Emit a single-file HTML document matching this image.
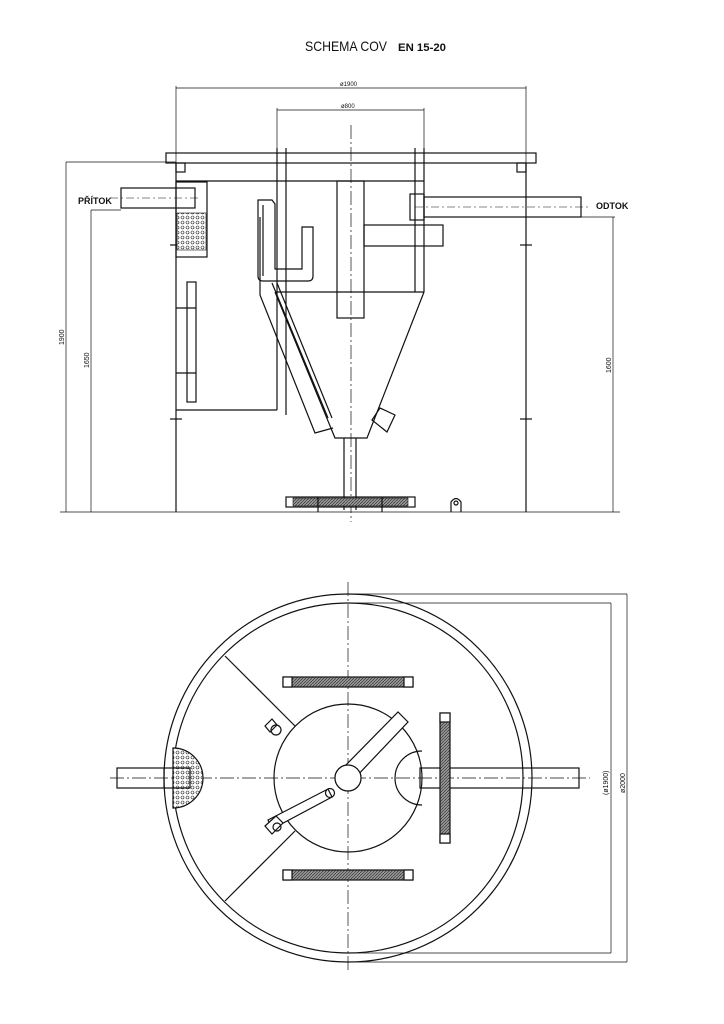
<!DOCTYPE html>
<html><head><meta charset="utf-8"><style>
html,body{margin:0;padding:0;background:#fff;}
svg{display:block;}
text{font-family:"Liberation Sans",sans-serif;fill:#111;}
</style></head><body>
<svg width="724" height="1024" viewBox="0 0 724 1024" xmlns="http://www.w3.org/2000/svg">
<defs>
<pattern id="dots" width="5" height="5" patternUnits="userSpaceOnUse">
<rect width="5" height="5" fill="#fff"/><circle cx="2.5" cy="2.5" r="1.5" fill="none" stroke="#222" stroke-width="0.6"/></pattern>
<pattern id="hatch" width="3" height="3" patternUnits="userSpaceOnUse">
<rect width="3" height="3" fill="#999"/><path d="M0 3L3 0" stroke="#333" stroke-width="0.7"/></pattern>
</defs>
<text x="305" y="51" font-size="14" textLength="82" lengthAdjust="spacingAndGlyphs">SCHEMA COV</text>
<text x="398" y="51" font-size="11" font-weight="bold" textLength="48" lengthAdjust="spacingAndGlyphs">EN 15-20</text>

<g fill="none" stroke="#111" stroke-width="1.2">
<!-- dims top -->
<g stroke-width="0.7">
<line x1="176" y1="88" x2="526" y2="88"/><line x1="176" y1="86" x2="176" y2="165"/><line x1="526" y1="86" x2="526" y2="165"/>
<line x1="277" y1="110" x2="424" y2="110"/><line x1="277" y1="108" x2="277" y2="150"/><line x1="424" y1="108" x2="424" y2="150"/>
<line x1="66" y1="162" x2="176" y2="162"/><line x1="66" y1="162" x2="66" y2="512"/>
<line x1="91" y1="210" x2="121" y2="210"/><line x1="91" y1="210" x2="91" y2="512"/>
<line x1="581" y1="217" x2="615" y2="217"/><line x1="613" y1="217" x2="613" y2="512"/>
<line x1="60" y1="512" x2="620" y2="512"/>
<line x1="351" y1="125" x2="351" y2="522" stroke-dasharray="14 3 2 3"/>
</g>
<!-- lid -->
<rect x="166" y="153" width="370" height="10"/>
<rect x="176" y="163" width="9" height="9"/><rect x="517" y="163" width="9" height="9"/>
<line x1="176" y1="163" x2="176" y2="512"/><line x1="526" y1="163" x2="526" y2="512"/>
<line x1="170" y1="245" x2="182" y2="245"/><line x1="520" y1="245" x2="532" y2="245"/>
<line x1="170" y1="419" x2="182" y2="419"/><line x1="520" y1="419" x2="532" y2="419"/>
<line x1="176" y1="181" x2="424" y2="181"/>
<!-- pipes vertical -->
<line x1="277" y1="148" x2="277" y2="410"/><line x1="286" y1="148" x2="286" y2="415"/>
<line x1="415" y1="148" x2="415" y2="292"/><line x1="424" y1="148" x2="424" y2="292"/>
<line x1="176" y1="410" x2="277" y2="410"/>
<!-- cone -->
<line x1="275" y1="292" x2="424" y2="292"/>
<polyline points="424,292 367,438 335,438 275,292"/>
<polyline points="260,217 260,295 315,433 333,428"/>
<line x1="272" y1="283" x2="328" y2="418"/><line x1="277" y1="283" x2="332" y2="418"/>
<rect x="337" y="181" width="27" height="137"/>
<rect x="364" y="225" width="79" height="21"/>
<!-- U pipe -->
<path d="M258 200 L272 200 L275 204 L275 269 L302 269 L302 227 L313 227 L313 276 Q313 281 308 281 L263 281 Q258 281 258 276 Z"/>
<line x1="263" y1="205" x2="263" y2="276"/>
<!-- nozzle -->
<polygon points="372,420 380,408 395,415 387,432"/>
<!-- drain -->
<line x1="344" y1="438" x2="344" y2="510"/><line x1="356" y1="438" x2="356" y2="510"/>
<rect x="286" y="497" width="129" height="10"/>
<rect x="293" y="498" width="115" height="8" fill="url(#hatch)" stroke-width="0.6"/>
<line x1="318" y1="497" x2="318" y2="512"/><line x1="382" y1="497" x2="382" y2="512"/>
<path d="M451 512 L451 502 Q456 495 461 502 L461 512"/><circle cx="456" cy="503" r="2"/>
<!-- left items -->
<rect x="176" y="182" width="31" height="75"/>
<rect x="177" y="213" width="29" height="37" fill="url(#dots)" stroke-width="0.6"/>
<rect x="121" y="188" width="74" height="20"/>
<rect x="187" y="282" width="9" height="120"/>
<line x1="176" y1="308" x2="196" y2="308"/><line x1="176" y1="373" x2="196" y2="373"/>
<!-- outlet -->
<rect x="410" y="194" width="14" height="26"/>
<rect x="424" y="197" width="157" height="20"/>
<line x1="415" y1="207" x2="590" y2="207" stroke-width="0.6" stroke-dasharray="8 3 2 3"/>
<line x1="110" y1="198" x2="198" y2="198" stroke-width="0.6" stroke-dasharray="8 3 2 3"/>
</g>
<text x="340" y="86" font-size="6">ø1900</text>
<text x="341" y="108" font-size="6">ø800</text>
<text x="78" y="204" font-size="9" font-weight="bold">PŘÍTOK</text>
<text x="596" y="209" font-size="9" font-weight="bold">ODTOK</text>
<text transform="translate(64,345) rotate(-90)" font-size="7">1900</text>
<text transform="translate(89,368) rotate(-90)" font-size="7">1650</text>
<text transform="translate(611,373) rotate(-90)" font-size="7">1600</text>

<!-- top view -->
<g fill="none" stroke="#111" stroke-width="1.2">
<g stroke-width="0.7">
<line x1="348" y1="594" x2="627" y2="594"/><line x1="348" y1="603" x2="611" y2="603"/>
<line x1="348" y1="962" x2="627" y2="962"/><line x1="348" y1="953" x2="611" y2="953"/>
<line x1="627" y1="594" x2="627" y2="962"/><line x1="611" y1="603" x2="611" y2="953"/>
<line x1="348" y1="582" x2="348" y2="970" stroke-dasharray="14 3 2 3"/>
<line x1="110" y1="778" x2="590" y2="778" stroke-dasharray="14 3 2 3"/>
</g>
<circle cx="348" cy="778" r="184"/>
<circle cx="348" cy="778" r="175"/>
<circle cx="348" cy="778" r="74"/>
<circle cx="348" cy="778" r="13"/>
<line x1="225" y1="656" x2="295" y2="726"/>
<line x1="225" y1="901" x2="295" y2="831"/>
<path d="M173 748 A30 30 0 0 1 173 808 Z" fill="url(#dots)"/>
<rect x="117" y="768" width="73" height="20"/>
<line x1="164" y1="768" x2="164" y2="788"/>
<rect x="420" y="768" width="159" height="20"/>
<path d="M422 751 A27 27 0 0 0 422 805"/>
<rect x="283" y="677" width="130" height="10" fill="url(#hatch)"/>
<rect x="283" y="677" width="9" height="10" fill="#fff"/><rect x="404" y="677" width="9" height="10" fill="#fff"/>
<rect x="283" y="870" width="130" height="10" fill="url(#hatch)"/>
<rect x="283" y="870" width="9" height="10" fill="#fff"/><rect x="404" y="870" width="9" height="10" fill="#fff"/>
<rect x="440" y="713" width="10" height="130" fill="url(#hatch)"/>
<rect x="440" y="713" width="10" height="9" fill="#fff"/><rect x="440" y="834" width="10" height="9" fill="#fff"/>
<polygon points="341,770 398,712 408,722 353,780" fill="#fff"/>
<circle cx="348" cy="778" r="13" fill="#fff"/>
<polygon points="268,820 328,789 332,797 272,829" fill="#fff"/>
<circle cx="330" cy="793" r="4.5"/>
<polygon points="265,826 276,816 283,823 272,834" fill="#fff"/>
<circle cx="277" cy="827" r="4"/>
<polygon points="265,726 272,719 277,725 270,732"/>
<circle cx="276" cy="730" r="5"/>
</g>
<text transform="translate(608,795) rotate(-90)" font-size="7">(ø1900)</text>
<text transform="translate(625,793) rotate(-90)" font-size="7">ø2000</text>
</svg>
</body></html>
